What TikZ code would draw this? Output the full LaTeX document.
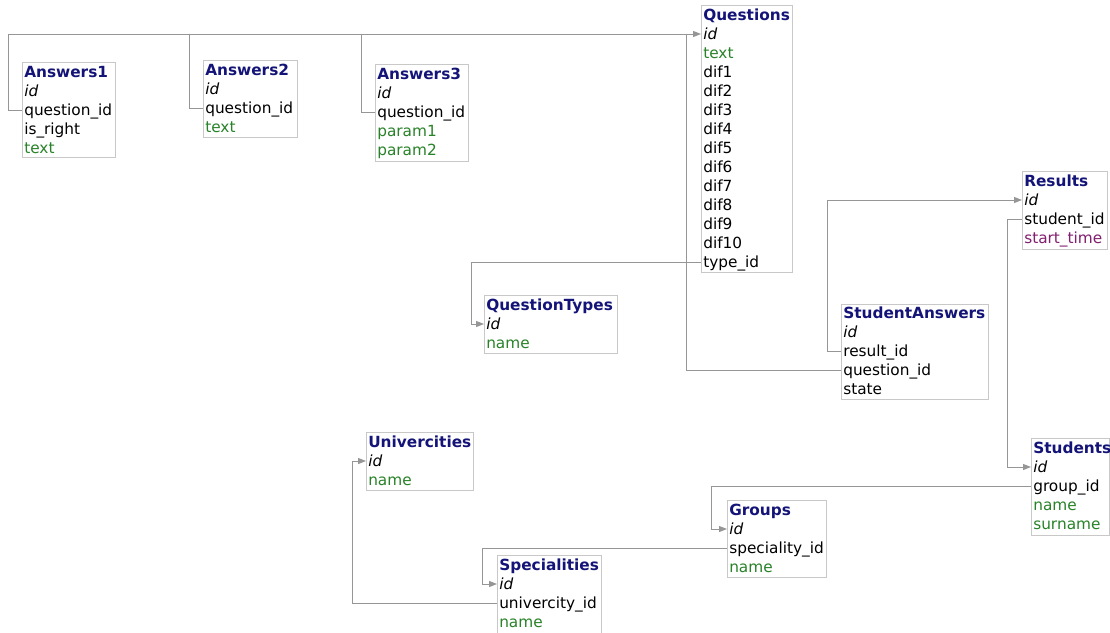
\documentclass[tikz,border=0pt]{standalone}
\usepackage{fontspec}
\setmainfont{DejaVu Sans}
\usetikzlibrary{calc,arrows.meta}
\definecolor{titlec}{RGB}{20,20,120}
\definecolor{grn}{RGB}{40,130,40}
\definecolor{pur}{RGB}{130,30,110}
\definecolor{boxc}{RGB}{200,200,200}
\definecolor{linec}{RGB}{150,150,150}
\begin{document}
\begin{tikzpicture}[x=0.75pt,y=-0.75pt,
  tbox/.style 2 args={draw=boxc, line width=0.8pt, fill=white, anchor=north west, inner sep=0pt,
     minimum width=#1*0.75pt, minimum height=#2*0.75pt},
  row/.style={anchor=west, inner sep=0pt, text height=10.5pt, text depth=2.3pt,
     font=\fontsize{11.5pt}{13pt}\selectfont},
  ttl/.style={row, font=\fontsize{11.5pt}{13pt}\selectfont\bfseries, text=titlec},
  key/.style={row, font=\fontsize{11.5pt}{13pt}\selectfont\itshape},
  gf/.style={row, text=grn},
  pf/.style={row, text=pur},
  conn/.style={draw=linec, line width=0.75pt},
  arr/.style={-{Triangle[length=6pt,width=4.5pt]}}
]
\useasboundingbox (0,0) rectangle (1110,632);
\fill[white] (0,0) rectangle (1110,632);

% Answers1
\node[tbox={93}{95}] (A1) at (22,62) {};
\node[ttl] (A1t) at (24,72) {Answers1};
\node[key] (A1i) at (24,91) {id};
\node[row] (A1q) at (24,110) {question\_id};
\node[row] (A1r) at (24,129) {is\_right};
\node[gf] (A1x) at (24,148) {text};

% Answers2
\node[tbox={94}{77}] (A2) at (203,60) {};
\node[ttl] (A2t) at (205,70) {Answers2};
\node[key] (A2i) at (205,89) {id};
\node[row] (A2q) at (205,108) {question\_id};
\node[gf] (A2x) at (205,127) {text};

% Answers3
\node[tbox={93}{97}] (A3) at (375,64) {};
\node[ttl] (A3t) at (377,74) {Answers3};
\node[key] (A3i) at (377,93) {id};
\node[row] (A3q) at (377,112) {question\_id};
\node[gf] (A3a) at (377,131) {param1};
\node[gf] (A3b) at (377,150) {param2};

% Questions
\node[tbox={91}{267}] (Q) at (701,5) {};
\node[ttl] (Qt0) at (703,15) {Questions};
\node[key] (Qid) at (703,34) {id};
\node[gf] (Qx) at (703,53) {text};
\node[row] (Qd1) at (703,72) {dif1};
\node[row] (Qd2) at (703,91) {dif2};
\node[row] (Qd3) at (703,110) {dif3};
\node[row] (Qd4) at (703,129) {dif4};
\node[row] (Qd5) at (703,148) {dif5};
\node[row] (Qd6) at (703,167) {dif6};
\node[row] (Qd7) at (703,186) {dif7};
\node[row] (Qd8) at (703,205) {dif8};
\node[row] (Qd9) at (703,224) {dif9};
\node[row] (Qd10) at (703,243) {dif10};
\node[row] (Qt) at (703,262) {type\_id};

% QuestionTypes
\node[tbox={133}{58}] (QT) at (484,295) {};
\node[ttl] (QTt) at (486,305) {QuestionTypes};
\node[key] (QTid) at (486,324) {id};
\node[gf] (QTn) at (486,343) {name};

% StudentAnswers
\node[tbox={147}{95}] (SA) at (841,304) {};
\node[ttl] (SAt) at (843,313) {StudentAnswers};
\node[key] (SAi) at (843,332) {id};
\node[row] (SAr) at (843,351) {result\_id};
\node[row] (SAq) at (843,370) {question\_id};
\node[row] (SAs) at (843,389) {state};

% Results
\node[tbox={85}{78}] (R) at (1022,171) {};
\node[ttl] (Rt) at (1024,181) {Results};
\node[key] (Rid) at (1024,200) {id};
\node[row] (Rs) at (1024,219) {student\_id};
\node[pf] (Rst) at (1024,238) {start\_time};

% Students
\node[tbox={78}{97}] (St) at (1031,438) {};
\node[ttl] (Stt) at (1033,448) {Students};
\node[key] (Stid) at (1033,467) {id};
\node[row] (Stg) at (1033,486) {group\_id};
\node[gf] (Stn) at (1033,505) {name};
\node[gf] (Sts) at (1033,524) {surname};

% Univercities
\node[tbox={107}{58}] (U) at (366,432) {};
\node[ttl] (Ut) at (368,442) {Univercities};
\node[key] (Uid) at (368,461) {id};
\node[gf] (Un) at (368,480) {name};

% Groups
\node[tbox={99}{77}] (G) at (727,500) {};
\node[ttl] (Gt) at (729,510) {Groups};
\node[key] (Gid) at (729,529) {id};
\node[row] (Gs) at (729,548) {speciality\_id};
\node[gf] (Gn) at (729,567) {name};

% Specialities
\node[tbox={104}{79}] (Sp) at (497,555) {};
\node[ttl] (Spt) at (499,565) {Specialities};
\node[key] (Spid) at (499,584) {id};
\node[row] (Spu) at (499,603) {univercity\_id};
\node[gf] (Spn) at (499,622) {name};

% connectors
\draw[conn,arr] (A1.west |- A1q) -- ++(-14,0) |- (Q.west |- Qid);
\draw[conn] (A2.west |- A2q) -| ($(A2.west |- Qid)+(-14,0)$);
\draw[conn] (A3.west |- A3q) -| ($(A3.west |- Qid)+(-14,0)$);
\draw[conn] (SA.west |- SAq) -| ($(Q.west |- Qid)+(-15,0)$);
\draw[conn,arr] (Q.west |- Qt) -- ++(-230,0) |- (QT.west |- QTid);
\draw[conn,arr] (SA.west |- SAr) -- ++(-14,0) |- (R.west |- Rid);
\draw[conn,arr] (R.west |- Rs) -- ++(-15,0) |- (St.west |- Stid);
\draw[conn,arr] (St.west |- Stg) -- ++(-320,0) |- (G.west |- Gid);
\draw[conn,arr] (G.west |- Gs) -- ++(-245,0) |- (Sp.west |- Spid);
\draw[conn,arr] (Sp.west |- Spu) -- ++(-145,0) |- (U.west |- Uid);
\end{tikzpicture}
\end{document}
